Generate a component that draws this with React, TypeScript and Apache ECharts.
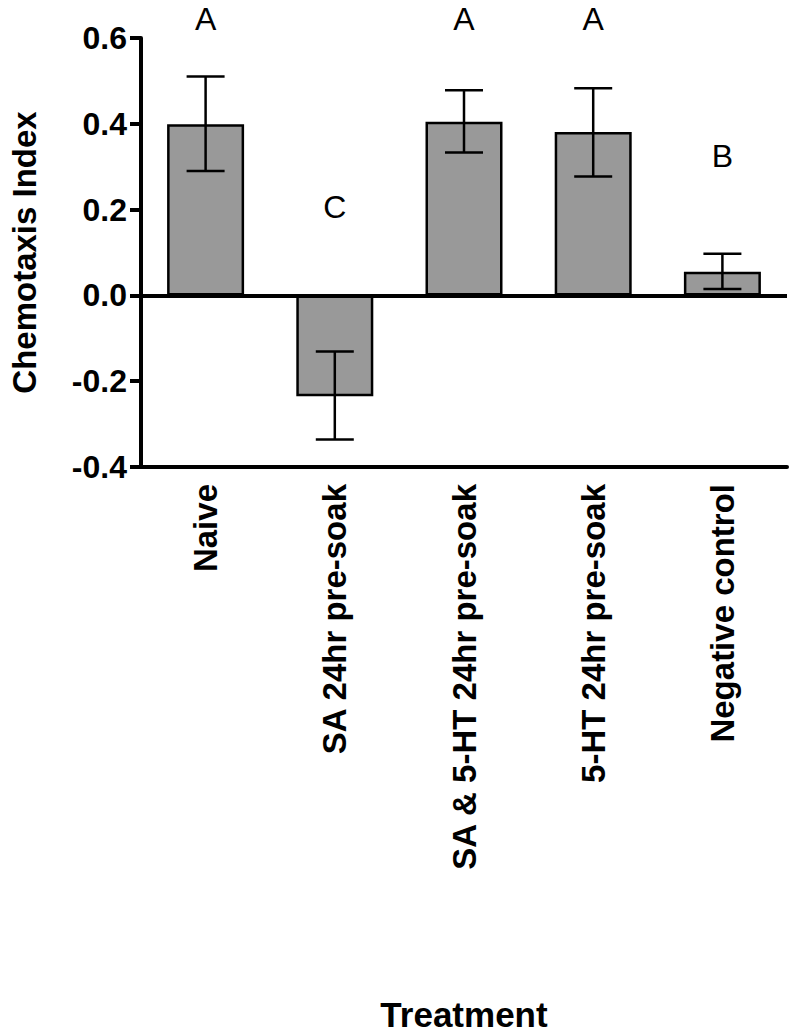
import React, { useEffect, useRef } from "react";
import * as echarts from "echarts";

const categories = [
  "Naive",
  "SA 24hr pre-soak",
  "SA & 5-HT 24hr pre-soak",
  "5-HT 24hr pre-soak",
  "Negative control",
];
const means = [0.399, -0.235, 0.405, 0.381, 0.055];
const errUpper = [0.51, -0.131, 0.478, 0.483, 0.097];
const errLower = [0.29, -0.336, 0.333, 0.277, 0.015];
const letters = ["A", "C", "A", "A", "B"];
const letterHeights = [0.644, 0.206, 0.644, 0.644, 0.324];
const yTicks = { min: -0.4, max: 0.6, interval: 0.2 };

const FONT = "'Liberation Sans', Arial, Helvetica, sans-serif";

export default function App() {
  const ref = useRef<HTMLDivElement>(null);

  useEffect(() => {
    if (!ref.current) return;
    const chart = echarts.init(ref.current, null, { renderer: "svg" });
    const option: any = {
      animation: false,
      backgroundColor: "#ffffff",
      textStyle: { fontFamily: FONT, color: "#000" },
      grid: { left: 136, right: 2, top: 38, bottom: 564.5, containLabel: false },
      xAxis: {
        type: "category",
        data: categories,
        position: "bottom",
        name: "Treatment",
        nameLocation: "middle",
        nameGap: 530,
        nameTextStyle: { fontSize: 35, fontWeight: "bold", color: "#000", fontFamily: FONT },
        axisLine: { onZero: false, lineStyle: { color: "#000", width: 4 } },
        axisTick: { alignWithLabel: true, length: 13, lineStyle: { color: "#000", width: 4 } },
        axisLabel: {
          rotate: 90,
          interval: 0,
          margin: 17,
          fontSize: 33,
          fontWeight: "bold",
          color: "#000",
          fontFamily: FONT,
        },
        splitLine: { show: false },
      },
      yAxis: {
        type: "value",
        min: yTicks.min,
        max: yTicks.max,
        interval: yTicks.interval,
        name: "Chemotaxis Index",
        nameLocation: "middle",
        nameRotate: 90,
        nameGap: 100,
        nameTextStyle: { fontSize: 33, fontWeight: "bold", color: "#000", fontFamily: FONT },
        axisLine: { show: true, lineStyle: { color: "#000", width: 4 } },
        axisTick: { show: true, length: 11, lineStyle: { color: "#000", width: 4 } },
        axisLabel: {
          margin: 14,
          fontSize: 32,
          fontWeight: "bold",
          color: "#000",
          fontFamily: FONT,
          formatter: (v: number) => v.toFixed(1),
        },
        splitLine: { show: false },
      },
      series: [
        {
          type: "bar",
          data: means,
          barWidth: 77,
          itemStyle: { color: "#999999", borderColor: "#000", borderWidth: 2.5 },
          z: 2,
          markLine: {
            silent: true,
            symbol: "none",
            label: { show: false },
            lineStyle: { color: "#000", width: 4, type: "solid" },
            data: [{ yAxis: 0 }],
            z: 3,
          },
        },
        {
          type: "custom",
          z: 4,
          data: categories.map((_, i) => [i, errLower[i], errUpper[i]]),
          renderItem: (params: any, api: any) => {
            const x = api.value(0);
            const lo = api.coord([x, api.value(1)]);
            const hi = api.coord([x, api.value(2)]);
            const hw = 19;
            const style = { stroke: "#000", lineWidth: 2.5 };
            return {
              type: "group",
              children: [
                { type: "line", shape: { x1: hi[0], y1: hi[1], x2: lo[0], y2: lo[1] }, style },
                { type: "line", shape: { x1: hi[0] - hw, y1: hi[1], x2: hi[0] + hw, y2: hi[1] }, style },
                { type: "line", shape: { x1: lo[0] - hw, y1: lo[1], x2: lo[0] + hw, y2: lo[1] }, style },
              ],
            };
          },
        },
        {
          type: "scatter",
          clip: false,
          symbolSize: 1,
          itemStyle: { color: "rgba(255,255,255,0)" },
          data: categories.map((_, i) => [i, letterHeights[i]]),
          label: {
            show: true,
            position: "inside",
            verticalAlign: "middle",
            formatter: (p: any) => letters[p.dataIndex],
            fontSize: 32,
            lineHeight: 32,
            fontWeight: "normal",
            color: "#000000",
            opacity: 1,
            fontFamily: FONT,
          },
          emphasis: { disabled: true },
          z: 5,
        },
      ],
    };
    chart.setOption(option);
    return () => chart.dispose();
  }, []);

  return (
    <div
      ref={ref}
      style={{ position: "fixed", left: 0, top: 0, width: 789, height: 1033, background: "#fff" }}
    />
  );
}
